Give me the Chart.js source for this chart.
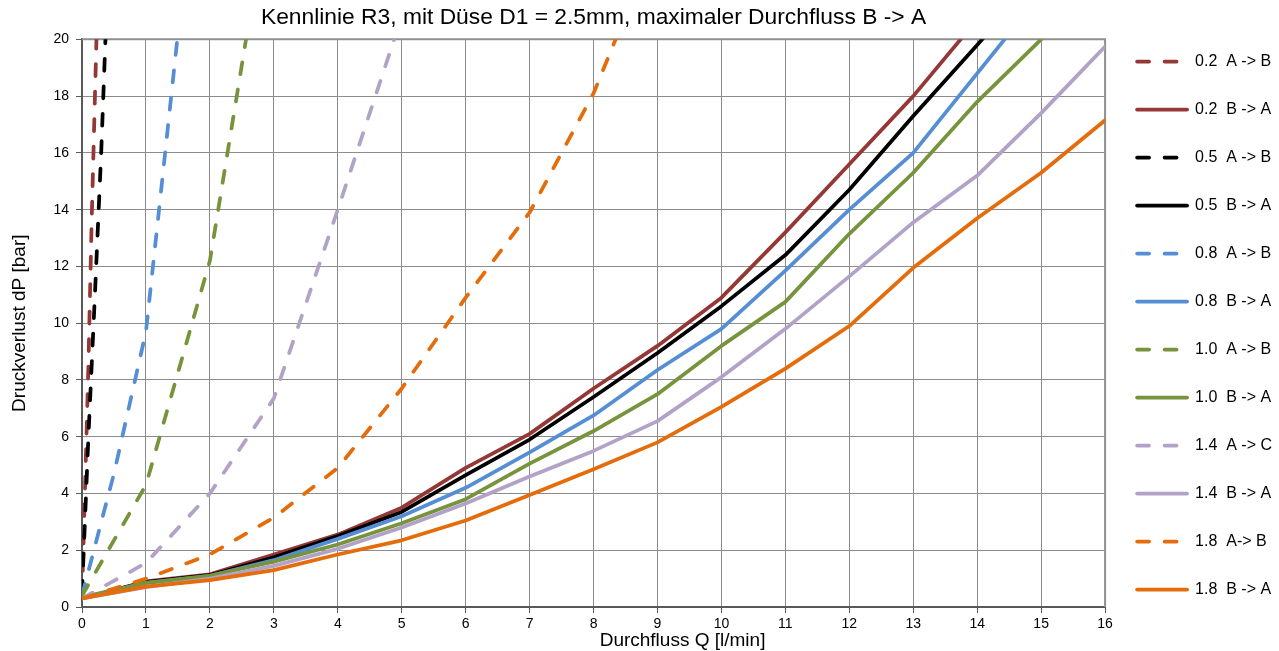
<!DOCTYPE html>
<html>
<head>
<meta charset="utf-8">
<script src="https://cdn.jsdelivr.net/npm/chart.js@4.4.1/dist/chart.umd.min.js"></script>
<style>
  html, body { margin: 0; padding: 0; background: #ffffff; }
  #wrap { width: 1279px; height: 651px; position: relative; }
</style>
</head>
<body>
<div id="wrap"><canvas id="c"></canvas></div>
<script>
// ---------- data ----------
const titleText = 'Kennlinie R3, mit Düse D1 = 2.5mm, maximaler Durchfluss B -> A';
const xTitle = 'Durchfluss Q [l/min]';
const yTitle = 'Druckverlust dP [bar]';

const seriesLabels = [
  '0.2  A -> B', '0.2  B -> A',
  '0.5  A -> B', '0.5  B -> A',
  '0.8  A -> B', '0.8  B -> A',
  '1.0  A -> B', '1.0  B -> A',
  '1.4  A -> C', '1.4  B -> A',
  '1.8  A-> B',  '1.8  B -> A'
];
const seriesColors = [
  '#953735', '#953735',
  '#000000', '#000000',
  '#558ED5', '#558ED5',
  '#77933C', '#77933C',
  '#B3A2C7', '#B3A2C7',
  '#E46C0A', '#E46C0A'
];

// flow values (l/min) for the B -> A curves
const qBA = [0, 1, 2, 3, 4, 5, 6, 7, 8, 9, 10, 11, 12, 13, 14, 15, 16];

// B -> A (solid)
const dp02BA = [0.3, 0.9, 1.15, 1.85, 2.55, 3.5, 4.9, 6.1, 7.7, 9.2, 10.9, 13.2, 15.6, 18.0, 20.7];
const dp05BA = [0.3, 0.88, 1.12, 1.75, 2.5, 3.35, 4.65, 5.9, 7.4, 8.95, 10.6, 12.4, 14.7, 17.3, 19.8, 22.4];
const dp08BA = [0.3, 0.85, 1.1, 1.65, 2.4, 3.2, 4.2, 5.45, 6.75, 8.35, 9.8, 11.85, 14.0, 16.0, 18.8, 21.6];
const dp10BA = [0.35, 0.85, 1.1, 1.6, 2.2, 2.95, 3.8, 5.05, 6.2, 7.5, 9.2, 10.75, 13.15, 15.3, 17.8, 20.0];
const dp14BA = [0.3, 0.7, 1.0, 1.45, 2.05, 2.8, 3.65, 4.6, 5.5, 6.55, 8.1, 9.8, 11.65, 13.55, 15.2, 17.4, 19.75];
const dp18BA = [0.3, 0.72, 0.95, 1.3, 1.85, 2.35, 3.05, 3.95, 4.85, 5.8, 7.05, 8.4, 9.9, 11.95, 13.7, 15.3, 17.15];

// A -> B / A -> C (dashed), each with its own flow values
const q02AB  = [0, 0.1, 0.15, 0.2, 0.25];
const dp02AB = [0.3, 8.5, 13.5, 17.8, 22.0];
const q05AB  = [0, 0.1, 0.2, 0.3, 0.4];
const dp05AB = [0.5, 6.0, 10.9, 16.0, 22.0];
const q08AB  = [0, 0.5, 1.0, 1.5];
const dp08AB = [0.4, 4.7, 9.7, 20.2];
const q10AB  = [0, 1, 2, 3];
const dp10AB = [0.4, 4.3, 12.2, 26.0];
const q14AC  = [0, 1, 2, 3, 4, 5];
const dp14AC = [0.3, 1.55, 4.0, 7.35, 14.0, 20.8];
const q18AB  = [0, 1, 2, 3, 4, 5, 6, 7, 8, 9];
const dp18AB = [0.3, 1.0, 1.85, 3.15, 4.9, 7.7, 10.9, 13.9, 18.1, 23.6];

const xTicks = [0, 1, 2, 3, 4, 5, 6, 7, 8, 9, 10, 11, 12, 13, 14, 15, 16];
const yTicks = [0, 2, 4, 6, 8, 10, 12, 14, 16, 18, 20];

// ---------- build ----------
const seriesX = [q02AB, qBA, q05AB, qBA, q08AB, qBA, q10AB, qBA, q14AC, qBA, q18AB, qBA];
const seriesY = [dp02AB, dp02BA, dp05AB, dp05BA, dp08AB, dp08BA, dp10AB, dp10BA, dp14AC, dp14BA, dp18AB, dp18BA];
const FONT = "'Liberation Sans', Arial, sans-serif";
const DASH = [12, 15.5];

const datasets = seriesLabels.map((label, i) => {
  const dashed = i % 2 === 0;
  return {
    label: label,
    data: seriesY[i].map((v, k) => ({ x: seriesX[i][k], y: v })),
    borderColor: seriesColors[i],
    backgroundColor: seriesColors[i],
    borderWidth: 3.75,
    borderDash: dashed ? DASH : [],
    borderCapStyle: 'round',
    borderJoinStyle: 'round',
    pointRadius: 0,
    pointHoverRadius: 0,
    tension: 0,
    fill: false,
    order: seriesLabels.length - 1 - i
  };
});

const framePlugin = {
  id: 'frame',
  beforeDatasetsDraw(chart) {
    const { ctx, chartArea: a } = chart;
    ctx.save();
    ctx.strokeStyle = '#8f8f8f';
    ctx.lineWidth = 2;
    ctx.beginPath();
    ctx.moveTo(a.left, a.top);
    ctx.lineTo(a.right, a.top);
    ctx.lineTo(a.right, a.bottom);
    ctx.stroke();
    ctx.restore();
  },
  afterDraw(chart) {
    const { ctx, chartArea: a } = chart;
    ctx.save();
    ctx.fillStyle = '#000000';
    ctx.font = "19px " + FONT;
    ctx.textAlign = 'center';
    ctx.textBaseline = 'middle';
    ctx.fillText(xTitle, (a.left + a.right) / 2 + 89, 641);
    ctx.restore();
  }
};

const gridCommon = {
  color: '#8c8c8c',
  lineWidth: 1,
  borderDash: [1, 1],
  tickLength: 6,
  tickColor: '#595959',
  tickBorderDash: [],
  drawTicks: true
};

new Chart(document.getElementById('c'), {
  type: 'line',
  data: { datasets: datasets },
  options: {
    responsive: true,
    maintainAspectRatio: false,
    animation: false,
    events: [],
    layout: { padding: { left: 0, right: -3, top: 0, bottom: 0 } },
    plugins: {
      title: {
        display: true,
        text: titleText,
        fullSize: false,
        color: '#000000',
        font: { family: FONT, size: 22.8, weight: 'normal' },
        padding: { top: 4, bottom: 8 }
      },
      legend: {
        position: 'right',
        align: 'center',
        labels: {
          usePointStyle: true,
          pointStyle: 'line',
          pointStyleWidth: 50,
          padding: 32,
          color: '#000000',
          font: { family: FONT, size: 16 },
          sort: (a, b) => a.datasetIndex - b.datasetIndex,
          generateLabels(chart) {
            const items = Chart.defaults.plugins.legend.labels.generateLabels(chart);
            items.forEach(it => {
              const ds = chart.data.datasets[it.datasetIndex];
              it.lineDash = ds.borderDash;
              it.lineWidth = ds.borderWidth;
              it.lineCap = 'round';
              it.strokeStyle = ds.borderColor;
              it.fillStyle = ds.borderColor;
              it.pointStyle = 'line';
            });
            return items;
          }
        }
      },
      tooltip: { enabled: false }
    },
    scales: {
      x: {
        type: 'linear',
        min: 0,
        max: 16,
        afterBuildTicks(scale) { scale.ticks = xTicks.map(v => ({ value: v })); },
        afterFit(scale) { scale.height = 44; },
        ticks: { color: '#000000', padding: 3, font: { family: FONT, size: 14 }, maxRotation: 0, autoSkip: false },
        grid: gridCommon,
        border: { display: true, color: '#595959', width: 2 }
      },
      y: {
        type: 'linear',
        min: 0,
        max: 20,
        afterBuildTicks(scale) { scale.ticks = yTicks.map(v => ({ value: v })); },
        afterFit(scale) { scale.width = 82; },
        ticks: { color: '#000000', padding: 7, font: { family: FONT, size: 14 }, autoSkip: false },
        grid: gridCommon,
        border: { display: true, color: '#595959', width: 2 },
        title: {
          display: true,
          text: yTitle,
          color: '#000000',
          font: { family: FONT, size: 19 },
          padding: { top: 8, bottom: 0 }
        }
      }
    }
  },
  plugins: [framePlugin]
});
</script>
</body>
</html>
